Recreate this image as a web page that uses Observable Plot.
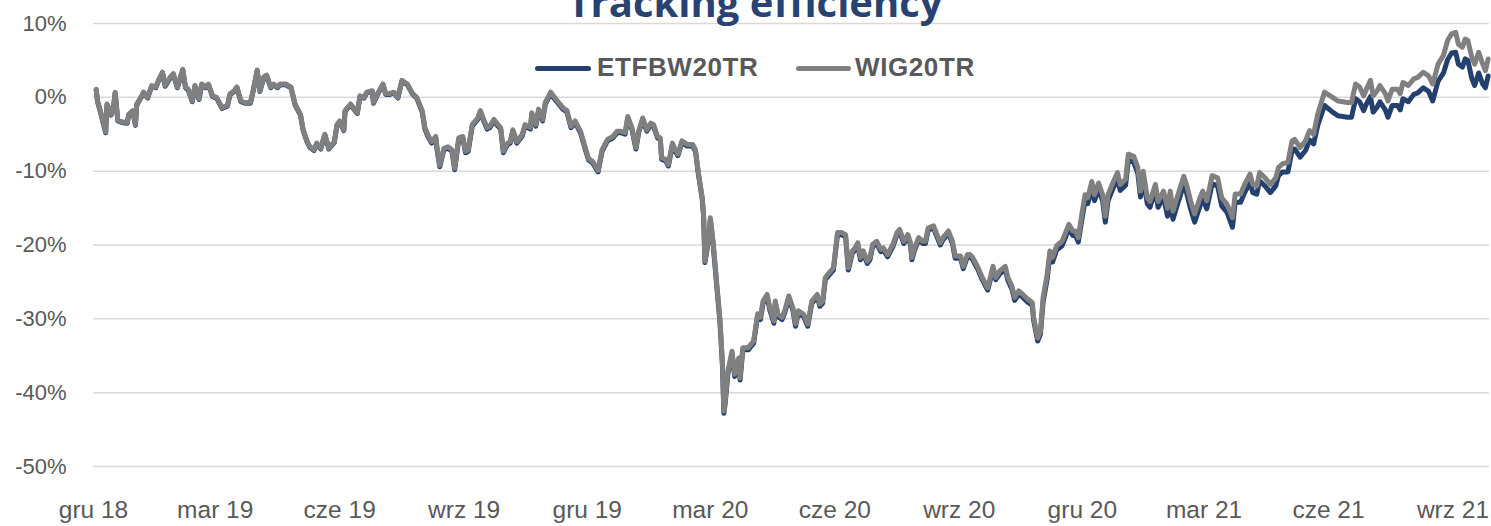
<!DOCTYPE html>
<html>
<head>
<meta charset="utf-8">
<script src="https://cdn.jsdelivr.net/npm/d3@7"></script>
<script src="https://cdn.jsdelivr.net/npm/@observablehq/plot@0.6"></script>
<style>
  html, body { margin: 0; padding: 0; background: #fff; }
  #wrap { position: relative; width: 1491px; height: 526px; overflow: hidden; }
  #chart svg { display: block; }
  #title { position: absolute; left: 755px; top: -18px; transform: translateX(-50%); white-space: nowrap;
           font: 700 40px/40px 'Open Sans', sans-serif; color: #284272; }
  .sw { position: absolute; height: 5px; border-radius: 3px; top: 65.5px; }
  .lt { position: absolute; top: 54px; font: 700 26px/26px 'Liberation Sans', Arial, sans-serif; color: #595959; letter-spacing: 0.6px; white-space: nowrap; }
</style>
</head>
<body>
<div id="wrap">
  <div id="chart"></div>
  <div id="title">Tracking efficiency</div>
  <div class="sw" style="left:535px;width:56px;background:#24406e"></div>
  <div class="lt" style="left:597px">ETFBW20TR</div>
  <div class="sw" style="left:796px;width:55px;background:#808080"></div>
  <div class="lt" style="left:855px">WIG20TR</div>
</div>
<script>
const seriesNames = ["ETFBW20TR", "WIG20TR"];
const seriesColors = ["#24406e", "#808080"];

const tickDates = ["2018-12-01","2019-03-01","2019-06-01","2019-09-01","2019-12-01","2020-03-01","2020-06-01","2020-09-01","2020-12-01","2021-03-01","2021-06-01","2021-09-01"];
const tickLabels = ["gru 18","mar 19","cze 19","wrz 19","gru 19","mar 20","cze 20","wrz 20","gru 20","mar 21","cze 21","wrz 21"];
const yTicks = [10, 0, -10, -20, -30, -40, -50];

const dates = [
"2018-12-03","2018-12-04","2018-12-06","2018-12-10","2018-12-11","2018-12-14","2018-12-16","2018-12-17","2018-12-19","2018-12-22",
"2018-12-26","2018-12-27","2018-12-30","2019-01-01","2019-01-02","2019-01-05","2019-01-07","2019-01-10","2019-01-13","2019-01-16",
"2019-01-18","2019-01-21","2019-01-23","2019-01-27","2019-01-29","2019-02-01","2019-02-05","2019-02-07","2019-02-09","2019-02-12",
"2019-02-14","2019-02-17","2019-02-19","2019-02-22","2019-02-24","2019-02-27","2019-03-02","2019-03-06","2019-03-10","2019-03-12",
"2019-03-15","2019-03-17","2019-03-20","2019-03-23","2019-03-27","2019-03-29","2019-04-01","2019-04-03","2019-04-06","2019-04-08",
"2019-04-11","2019-04-13","2019-04-16","2019-04-18","2019-04-22","2019-04-26","2019-04-29","2019-05-03","2019-05-05","2019-05-08",
"2019-05-10","2019-05-13","2019-05-15","2019-05-18","2019-05-21","2019-05-24","2019-05-28","2019-05-30","2019-06-01","2019-06-04",
"2019-06-05","2019-06-09","2019-06-14","2019-06-16","2019-06-19","2019-06-21","2019-06-25","2019-06-26","2019-06-29","2019-07-03",
"2019-07-05","2019-07-08","2019-07-11","2019-07-14","2019-07-17","2019-07-21","2019-07-25","2019-07-28",
"2019-08-01","2019-08-03","2019-08-05","2019-08-08","2019-08-11","2019-08-12","2019-08-14","2019-08-17","2019-08-20","2019-08-23",
"2019-08-25","2019-08-28","2019-08-31","2019-09-02","2019-09-04","2019-09-07","2019-09-11","2019-09-13","2019-09-15","2019-09-18",
"2019-09-20","2019-09-23","2019-09-26","2019-09-28","2019-09-30","2019-10-03","2019-10-05","2019-10-07","2019-10-10","2019-10-14",
"2019-10-16","2019-10-20","2019-10-21","2019-10-24","2019-10-26","2019-10-29","2019-10-31","2019-11-04","2019-11-06","2019-11-09",
"2019-11-13","2019-11-16","2019-11-19","2019-11-22","2019-11-26","2019-11-30","2019-12-02","2019-12-05","2019-12-09","2019-12-12",
"2019-12-16","2019-12-20","2019-12-23","2019-12-26","2019-12-29","2019-12-31",
"2020-01-03","2020-01-06","2020-01-08","2020-01-11","2020-01-14","2020-01-17","2020-01-19","2020-01-22","2020-01-24","2020-01-25",
"2020-01-28","2020-01-30","2020-02-02","2020-02-04","2020-02-06","2020-02-09","2020-02-13","2020-02-17","2020-02-19","2020-02-21",
"2020-02-24","2020-02-25","2020-02-26","2020-02-28",
"2020-03-01","2020-03-03","2020-03-06","2020-03-08","2020-03-10","2020-03-11","2020-03-12","2020-03-14","2020-03-17","2020-03-19",
"2020-03-22","2020-03-23","2020-03-25","2020-03-29","2020-04-02","2020-04-05","2020-04-07","2020-04-09","2020-04-12","2020-04-14",
"2020-04-17","2020-04-18","2020-04-20","2020-04-23","2020-04-25","2020-04-28","2020-05-01","2020-05-03","2020-05-05","2020-05-09",
"2020-05-12","2020-05-15","2020-05-19","2020-05-21","2020-05-23","2020-05-25","2020-05-29","2020-05-31","2020-06-03","2020-06-06",
"2020-06-09","2020-06-11","2020-06-14","2020-06-16","2020-06-18","2020-06-20","2020-06-22","2020-06-25","2020-06-27","2020-06-29",
"2020-07-02","2020-07-05","2020-07-07","2020-07-10","2020-07-12","2020-07-14","2020-07-17","2020-07-19",
"2020-07-22","2020-07-25","2020-07-27","2020-07-28","2020-07-30","2020-08-02","2020-08-05","2020-08-07","2020-08-09","2020-08-13",
"2020-08-16","2020-08-18","2020-08-20","2020-08-24","2020-08-27","2020-08-29","2020-09-02","2020-09-04","2020-09-07","2020-09-09",
"2020-09-11","2020-09-15","2020-09-18","2020-09-22","2020-09-24","2020-09-26","2020-09-28",
"2020-10-01","2020-10-05","2020-10-07","2020-10-10","2020-10-12","2020-10-15","2020-10-18","2020-10-22","2020-10-25","2020-10-26",
"2020-10-29","2020-10-31",
"2020-11-02","2020-11-05","2020-11-07","2020-11-09","2020-11-12","2020-11-16","2020-11-18","2020-11-21","2020-11-24","2020-11-26",
"2020-11-28",
"2020-12-01","2020-12-03","2020-12-05","2020-12-08","2020-12-10","2020-12-13","2020-12-16","2020-12-18","2020-12-20","2020-12-24",
"2020-12-27","2020-12-29","2021-01-02","2021-01-04","2021-01-08","2021-01-11","2021-01-13","2021-01-15","2021-01-18","2021-01-20",
"2021-01-24","2021-01-26","2021-01-30",
"2021-02-02","2021-02-04","2021-02-06","2021-02-09","2021-02-14","2021-02-16","2021-02-19","2021-02-22","2021-02-26","2021-02-28",
"2021-03-03","2021-03-07","2021-03-11","2021-03-14","2021-03-18","2021-03-22","2021-03-24","2021-03-28","2021-03-31","2021-04-04",
"2021-04-06","2021-04-09","2021-04-11","2021-04-15","2021-04-19","2021-04-23","2021-04-25","2021-04-28",
"2021-05-02","2021-05-05","2021-05-07","2021-05-11","2021-05-15","2021-05-18","2021-05-21","2021-05-24","2021-05-29",
"2021-06-04","2021-06-08","2021-06-15","2021-06-18","2021-06-21","2021-06-24","2021-06-27","2021-06-29",
"2021-07-02","2021-07-04","2021-07-07","2021-07-09","2021-07-13","2021-07-15","2021-07-18","2021-07-22","2021-07-24","2021-07-26",
"2021-07-30","2021-08-03","2021-08-06","2021-08-10","2021-08-14","2021-08-17","2021-08-21","2021-08-25","2021-08-28","2021-08-31",
"2021-09-03","2021-09-05","2021-09-08","2021-09-10","2021-09-12","2021-09-15","2021-09-17","2021-09-20","2021-09-23","2021-09-25",
"2021-09-27"
];

const wig20tr = [
1.1,-0.5,-1.8,-4.7,-0.9,-2.3,-0.9,0.7,-3.1,-3.3,
-3.4,-2.3,-1.8,-3.7,-0.9,0,0.7,0,1.6,1.4,
2.3,3.4,1.6,2.8,3.2,1.4,3.8,1.4,1.1,-0.5,
1.6,-0.2,1.8,1.4,1.8,0.2,0,-1.4,-1.1,0.5,
0.9,1.4,-0.5,-0.7,-0.7,0.9,3.7,0.9,2.8,3.0,
1.4,1.8,1.4,1.8,1.8,1.4,-0.9,-2.3,-4.4,-6.0,
-6.7,-7.1,-6.2,-6.9,-5.0,-6.9,-6.0,-3.7,-3.2,-4.4,
-1.8,-0.9,-2.1,0.2,0,0.7,0.9,-0.7,0.5,1.8,
0.5,0.5,0.7,0,2.3,1.8,0.5,0,
-1.8,-4.1,-5.0,-6.0,-5.3,-6.9,-9.2,-6.9,-6.7,-7.1,
-9.6,-5.5,-5.3,-7.3,-7.1,-3.7,-2.8,-1.8,-2.8,-4.1,
-3.9,-3.0,-3.7,-4.1,-7.3,-6.2,-6.0,-4.4,-6.0,-5.0,
-3.7,-4.1,-2.1,-3.7,-1.6,-3.0,-0.7,0.7,0.2,-0.5,
-1.4,-1.8,-3.9,-3.2,-4.6,-7.1,-8.3,-8.7,-9.9,-7.1,
-5.7,-5.3,-4.6,-4.6,-4.8,-2.6,
-4.1,-6.8,-4.6,-2.8,-4.4,-3.5,-3.7,-5.3,-5.5,-8.2,
-8.4,-9.1,-6.2,-7.1,-7.7,-5.9,-6.4,-6.4,-7.1,-10,
-13.6,-15.9,-22.2,-19.9,
-16.3,-19.5,-25.8,-29.8,-36.2,-42.5,-41.1,-37.1,-34.4,-37.5,
-35.3,-38.0,-33.9,-33.9,-33.0,-29.3,-29.8,-27.6,-26.7,-28.5,
-30.3,-27.6,-29.4,-29.8,-28.9,-26.9,-28.5,-30.7,-28.9,-29.4,
-30.7,-27.6,-26.7,-28.0,-27.6,-24.4,-23.5,-23.1,-18.3,-18.3,
-18.6,-23.1,-20.8,-20.4,-19.7,-21.7,-20.8,-22.2,-21.7,-19.9,
-19.5,-20.6,-20.4,-21.3,-20.6,-19.9,-18.3,-17.9,
-19.5,-18.6,-19.7,-21.7,-20.4,-19.0,-19.5,-19.5,-17.7,-17.4,
-18.8,-19.7,-19.0,-18.1,-19.5,-21.5,-21.5,-22.9,-21.3,-21.3,
-21.7,-23.1,-24.4,-25.8,-24.4,-22.9,-24.4,
-23.5,-22.9,-24.4,-25.6,-27.1,-26.2,-26.7,-27.4,-27.8,-29.8,
-32.6,-31.7,
-27.1,-24.0,-20.8,-21.7,-20.1,-19.5,-18.6,-17.2,-18.1,-18.1,
-19.0,
-15.4,-13.2,-13.6,-11.4,-13.2,-11.6,-13.2,-16.1,-13.2,-11.4,
-10.2,-11.8,-11.1,-7.7,-8.0,-9.5,-12.7,-10.0,-13.6,-14.1,
-11.8,-14.1,-12.7,
-15.0,-12.7,-15.4,-13.6,-10.7,-11.8,-14.0,-15.8,-13.6,-12.7,
-14.0,-10.6,-10.9,-13.6,-14.5,-16.3,-13.1,-13.1,-11.8,-10.4,
-11.8,-12.0,-10.2,-10.9,-11.8,-10.9,-9.5,-9.0,
-8.8,-5.9,-5.7,-6.8,-5.9,-4.5,-5.0,-2.3,0.7,
0,-0.5,-0.7,-0.7,1.8,1.4,0.2,1.1,
2.3,0.2,0.9,1.6,0.5,-0.5,1.1,1.1,0.5,2.0,
1.6,2.5,2.7,3.4,2.9,1.8,4.5,5.7,7.7,8.6,
8.8,7.2,6.8,7.9,7.7,5.4,4.5,6.1,4.5,3.6,
5.2
];

const etfbw20tr = [
1.0,-0.6,-1.9,-4.8,-1.0,-2.4,-1.0,0.6,-3.2,-3.4,
-3.5,-2.4,-1.9,-3.8,-1.0,-0.1,0.6,-0.1,1.5,1.3,
2.2,3.3,1.5,2.7,3.1,1.3,3.7,1.3,1.0,-0.6,
1.5,-0.3,1.7,1.3,1.7,0.1,-0.1,-1.5,-1.2,0.4,
0.8,1.3,-0.6,-0.8,-0.8,0.8,3.6,0.8,2.7,2.9,
1.3,1.7,1.3,1.7,1.7,1.3,-1.0,-2.4,-4.5,-6.1,
-6.8,-7.2,-6.3,-7.0,-5.1,-7.0,-6.1,-3.8,-3.3,-4.5,
-1.9,-1.0,-2.2,0.1,-0.1,0.6,0.8,-0.8,0.4,1.7,
0.4,0.4,0.6,-0.1,2.2,1.7,0.4,-0.1,
-2.0,-4.3,-5.2,-6.2,-5.5,-7.1,-9.4,-7.1,-6.9,-7.3,
-9.8,-5.7,-5.5,-7.5,-7.3,-3.9,-3.0,-2.0,-3.0,-4.3,
-4.1,-3.2,-3.9,-4.3,-7.5,-6.4,-6.2,-4.6,-6.2,-5.2,
-3.9,-4.3,-2.3,-3.9,-1.8,-3.2,-0.9,0.5,0.0,-0.7,
-1.6,-2.0,-4.1,-3.4,-4.8,-7.3,-8.5,-8.9,-10.1,-7.3,
-5.9,-5.5,-4.8,-4.8,-5.0,-2.8,
-4.3,-7.0,-4.8,-3.0,-4.6,-3.7,-3.9,-5.5,-5.7,-8.4,
-8.6,-9.3,-6.4,-7.3,-7.9,-6.1,-6.6,-6.6,-7.3,-10.2,
-13.8,-16.1,-22.4,-20.1,
-16.6,-19.8,-26.1,-30.1,-36.5,-42.8,-41.4,-37.4,-34.7,-37.8,
-35.6,-38.3,-34.2,-34.2,-33.3,-29.6,-30.1,-27.9,-27.0,-28.8,
-30.6,-27.9,-29.7,-30.1,-29.2,-27.2,-28.8,-31.0,-29.2,-29.7,
-31.0,-27.9,-27.0,-28.3,-27.9,-24.7,-23.8,-23.4,-18.6,-18.6,
-18.9,-23.4,-21.1,-20.7,-20.0,-22.0,-21.1,-22.5,-22.0,-20.2,
-19.8,-20.9,-20.7,-21.6,-20.9,-20.2,-18.6,-18.2,
-19.8,-18.9,-20.0,-22.0,-20.7,-19.3,-19.8,-19.8,-18.0,-17.7,
-19.1,-20.0,-19.3,-18.4,-19.8,-21.8,-21.8,-23.2,-21.6,-21.6,
-22.0,-23.4,-24.7,-26.1,-24.7,-23.2,-24.7,
-23.9,-23.3,-24.8,-26.0,-27.5,-26.6,-27.1,-27.8,-28.2,-30.2,
-33.0,-32.1,
-27.7,-24.6,-21.4,-22.3,-20.7,-20.1,-19.2,-17.8,-18.7,-18.7,
-19.6,
-16.2,-14.0,-14.4,-12.2,-14.0,-12.4,-14.0,-16.9,-14.0,-12.2,
-11.0,-12.6,-11.9,-8.5,-8.8,-10.3,-13.5,-10.8,-14.4,-14.9,
-12.6,-14.9,-13.5,
-16.1,-13.8,-16.5,-14.7,-11.8,-12.9,-15.1,-16.9,-14.7,-13.8,
-15.1,-11.7,-12.0,-14.7,-15.6,-17.6,-14.2,-14.2,-12.9,-11.5,
-12.9,-13.1,-11.3,-12.0,-12.9,-12.0,-10.6,-10.1,
-10.1,-7.2,-7.0,-8.1,-7.2,-5.8,-6.3,-3.8,-1.1,
-2.0,-2.5,-2.7,-2.7,-0.2,-0.6,-1.8,-0.9,
0.1,-2.0,-1.3,-0.6,-1.7,-2.7,-1.1,-1.1,-1.7,-0.2,
-0.6,0.4,0.6,1.3,0.8,-0.5,2.2,3.3,5.1,6.0,
6.1,4.5,4.1,5.2,5.0,2.5,1.6,3.3,1.8,1.3,
2.9
];

const parse = d3.utcParse("%Y-%m-%d");
const rows = [];
seriesNames.forEach((name, s) => {
  const vals = s === 0 ? etfbw20tr : wig20tr;
  dates.forEach((d, i) => rows.push({series: name, date: parse(d), value: vals[i]}));
});
const tickDateObjs = tickDates.map(parse);
const labelFor = d => tickLabels[tickDateObjs.findIndex(t => +t === +d)];

const chart = Plot.plot({
  width: 1491,
  height: 526,
  marginTop: 23,
  marginBottom: 60,
  marginLeft: 93,
  marginRight: 2,
  style: {fontFamily: "'Liberation Sans', Arial, sans-serif", color: "#595959", background: "transparent", overflow: "visible"},
  x: {type: "utc", domain: [parse("2018-12-01"), parse("2021-09-28")]},
  y: {domain: [-50, 10]},
  color: {domain: seriesNames, range: seriesColors},
  marks: [
    Plot.gridY({ticks: yTicks, stroke: "#d9d9d9", strokeOpacity: 1, strokeWidth: 1.5}),
    Plot.axisY({ticks: yTicks, tickFormat: d => `${d}%`, tickSize: 0, tickPadding: 27, fontSize: 22, label: null}),
    Plot.axisX({ticks: tickDateObjs, tickFormat: labelFor, tickSize: 0, tickPadding: 34, fontSize: 24.5, label: null}),
    Plot.lineY(rows, {x: "date", y: "value", z: "series", stroke: "series", strokeWidth: 5, strokeLinejoin: "round", strokeLinecap: "round"})
  ]
});
document.getElementById("chart").appendChild(chart);
</script>
</body>
</html>
